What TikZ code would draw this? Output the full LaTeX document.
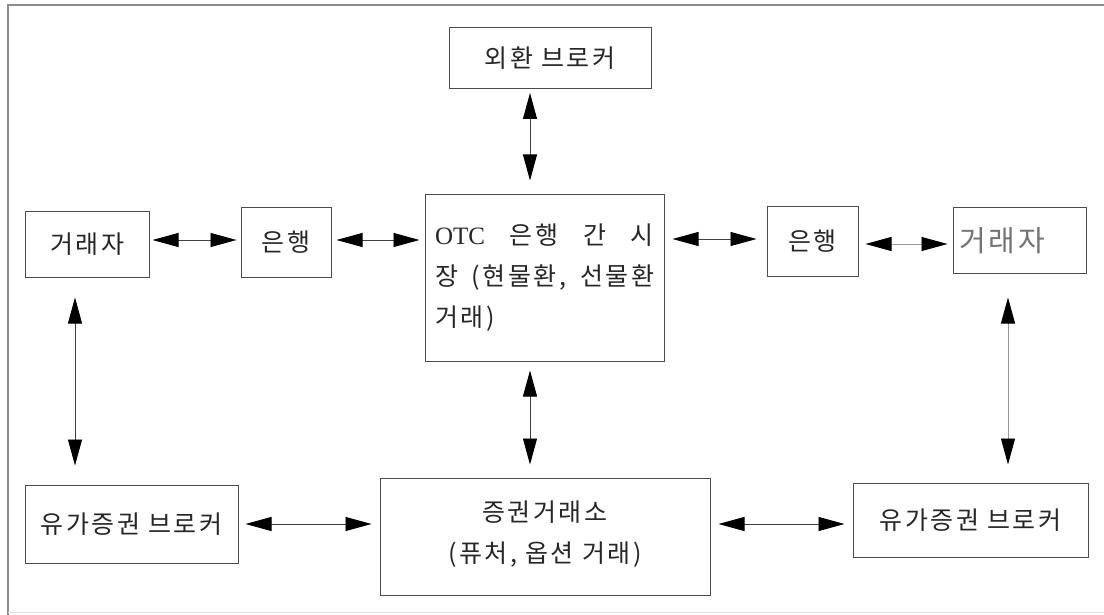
\documentclass[tikz,border=0pt]{standalone}
\usepackage{fontspec}
\newfontfamily\kr[LetterSpace=10]{Noto Sans CJK KR}
\newfontfamily\lat{Liberation Serif}
\usetikzlibrary{arrows.meta}
\tikzset{
  box/.style={draw=black!70, line width=1pt, rectangle, inner sep=0pt, font=\kr\fontsize{25}{41}\selectfont, text=black!85},
  arr/.style={line width=0.9pt, draw=black!75, {Triangle[length=26pt,width=14pt,color=black]}-{Triangle[length=26pt,width=14pt,color=black]}},
  frame/.style={draw=black!45, line width=1.5pt}
}
\begin{document}
\begin{tikzpicture}[x=1pt,y=-1pt]
\useasboundingbox (0,0) rectangle (1104,615);
\draw[frame] (8,615) -- (8,5) -- (1104,5);
\draw[draw=black!12, line width=1pt] (8,612) -- (1104,612);

\node[box, minimum width=202pt, minimum height=61pt] (fx) at (550,58) {외환 브로커};
\node[box, minimum width=239pt, minimum height=166pt, text width=219pt, align=left] (otc) at (544.5,278)
  {\makebox[219pt][l]{{\lat OTC}\hfill 은행\hfill 간\hfill 시}\\\makebox[219pt][l]{장\hfill (현물환,\hfill 선물환}\\거래)};
\node[box, minimum width=124pt, minimum height=65pt] (trL) at (87,244.5) {거래자};
\node[box, minimum width=90pt, minimum height=69pt] (bkL) at (286,242.5) {은행};
\node[box, minimum width=91pt, minimum height=69pt] (bkR) at (812.5,241.5) {은행};
\node[box, minimum width=133pt, minimum height=65pt, text width=121pt, align=left, text=black!55, font=\kr\fontsize{29}{35}\selectfont] (trR) at (1019.5,240.5) {거래자};
\node[box, minimum width=213pt, minimum height=78pt] (sbL) at (131.5,524) {유가증권 브로커};
\node[box, minimum width=330pt, minimum height=117pt, align=center] (ex) at (545,536.5) {증권거래소\\(퓨처, 옵션 거래)\\[-31pt]};
\node[box, minimum width=235pt, minimum height=74pt] (sbR) at (970.5,520) {유가증권 브로커};

% vertical connectors
\draw[arr] ([yshift=-4pt]fx.south -| 530,0) -- ([yshift=14pt]otc.north -| 530,0);
\draw[arr] ([yshift=-9pt]otc.south -| 530,0) -- ([yshift=13pt]ex.north -| 530,0);
\draw[arr] ([yshift=-20pt]trL.south -| 75,0) -- ([yshift=19pt]sbL.north -| 75,0);
\draw[arr, draw=black!40] ([yshift=-24pt]trR.south -| 1008,0) -- ([yshift=18pt]sbR.north -| 1008,0);

% horizontal connectors
\draw[arr] ([xshift=3pt]trL.east |- 0,240) -- ([xshift=-4pt]bkL.west |- 0,240);
\draw[arr] ([xshift=5pt]bkL.east |- 0,240) -- ([xshift=-5pt]otc.west |- 0,240);
\draw[arr] ([xshift=8pt]otc.east |- 0,239) -- ([xshift=-10pt]bkR.west |- 0,239);
\draw[arr, draw=black!40] ([xshift=7pt]bkR.east |- 0,244) -- ([xshift=-5pt]trR.west |- 0,244);
\draw[arr] ([xshift=7pt]sbL.east |- 0,524) -- ([xshift=-8pt]ex.west |- 0,524);
\draw[arr] ([xshift=8pt]ex.east |- 0,524) -- ([xshift=-8pt]sbR.west |- 0,524);
\end{tikzpicture}
\end{document}
